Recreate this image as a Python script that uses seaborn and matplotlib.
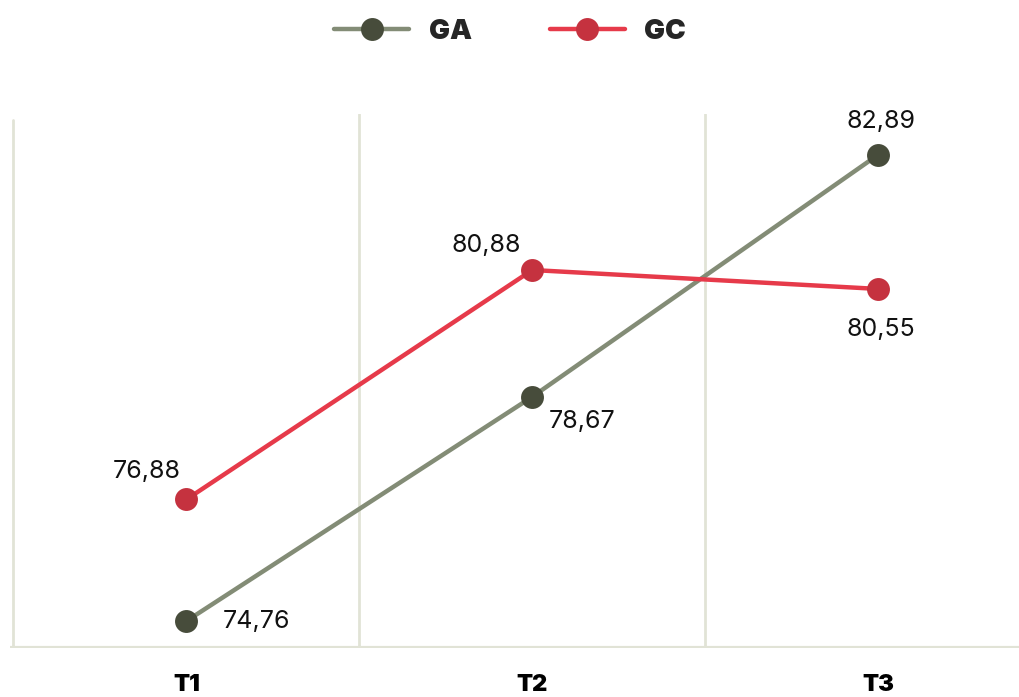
import matplotlib
matplotlib.use("Agg")
import matplotlib.pyplot as plt
import seaborn as sns
import pandas as pd
from matplotlib.lines import Line2D

periods = ["T1", "T2", "T3"]
ga_values = [74.76, 78.67, 82.89]
gc_values = [76.88, 80.88, 80.55]
series_names = ["GA", "GC"]

sns.set_theme(style="white")
plt.rcParams["font.family"] = ["Inter", "DejaVu Sans"]

df = pd.DataFrame({
    "period": list(range(3)) * 2,
    "value": ga_values + gc_values,
    "group": ["GA"] * 3 + ["GC"] * 3,
})

line_colors = {"GA": "#838c76", "GC": "#e63a4a"}
marker_colors = {"GA": "#474c3b", "GC": "#c5323f"}
grid_color = "#e1e3d6"

fig = plt.figure(figsize=(10.2, 6.97), dpi=100)
ax = fig.add_axes([10 / 1020, 49 / 697, 1010 / 1020, (648 - 114) / 697])

sns.lineplot(data=df, x="period", y="value", hue="group", palette=line_colors,
             marker="o", markersize=16.5, linewidth=3.2, ax=ax, legend=False,
             markeredgewidth=0)
for ln, g in zip(ax.lines, series_names):
    ln.set_markerfacecolor(marker_colors[g])
    ln.set_markeredgecolor(marker_colors[g])
    ln.set_zorder(3)

ax.set_xlim(-0.51, 2.41)
ax.set_ylim(74.29, 83.6)

for s in ax.spines.values():
    s.set_visible(False)
for xv in [-0.5, 0.5, 1.5]:
    ax.axvline(xv, ymin=0, ymax=(0.988 if xv == -0.5 else 1.0), color=grid_color, lw=2, zorder=1)
ax.axhline(74.29, color=grid_color, lw=3, zorder=1)

ax.set_xticks(range(3))
ax.set_xticklabels(periods, fontsize=17, fontweight="black", color="black")
ax.tick_params(axis="x", length=0, pad=19)
ax.set_yticks([])
ax.set_xlabel("")
ax.set_ylabel("")

# value labels (offsets in pixels)
ga_offsets = [(70, 0), (50, -25), (3, 33)]
gc_offsets = [(-40, 28), (-46, 25), (3, -41)]
for i, (v, off) in enumerate(zip(ga_values, ga_offsets)):
    ax.annotate(f"{v:.2f}".replace(".", ","), (i, v), xytext=off, textcoords="offset pixels",
                ha="center", va="center", fontsize=18, color="#111111")
for i, (v, off) in enumerate(zip(gc_values, gc_offsets)):
    ax.annotate(f"{v:.2f}".replace(".", ","), (i, v), xytext=off, textcoords="offset pixels",
                ha="center", va="center", fontsize=18, color="#111111")

handles = [Line2D([0], [0], color=line_colors[g], lw=3.2, marker="o", markersize=16.5,
                  markerfacecolor=marker_colors[g], markeredgewidth=0) for g in series_names]
leg = fig.legend(handles, series_names, loc="center", bbox_to_anchor=(0.5, 1 - 32 / 697),
                 ncol=2, frameon=False, handlelength=2.7, columnspacing=2.8, handletextpad=0.7,
                 prop={"size": 20, "weight": "black"})

fig.savefig("out.png", dpi=100)
